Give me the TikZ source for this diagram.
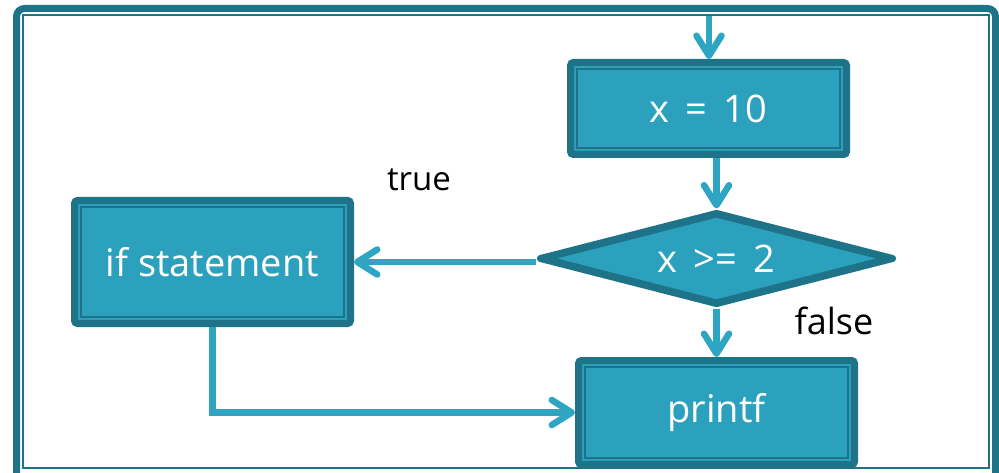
\documentclass[tikz,border=0pt]{standalone}
\usepackage{fontspec}
\setmainfont{Open Sans}
\usetikzlibrary{arrows.meta,shapes.geometric,calc}
\definecolor{dk}{HTML}{1F7389}
\definecolor{fl}{HTML}{2CA1BE}
\definecolor{ar}{HTML}{2EA6C3}
\begin{document}
\begin{tikzpicture}[x=1pt,y=-1pt,
  procbox/.style={draw=dk, fill=fl, line width=7pt, rounded corners=3pt,
    minimum width=276pt, text=white, font=\fontsize{38pt}{40pt}\selectfont, inner sep=0pt},
  decbox/.style={diamond, draw=dk, fill=fl, line width=7pt, line join=round, minimum width=355pt,
    minimum height=93pt, aspect=3.6, inner sep=0pt},
  innerline/.style={draw=dk, line width=1.6pt},
  lbl/.style={text=black, inner sep=0pt},
  flow/.style={draw=ar, line width=6.5pt, -{Straight Barb[length=20pt, width=25pt, round]}},
  framebig/.style={draw=dk, line width=7pt, rounded corners=8pt},
  framethin/.style={draw=dk, line width=2pt}
]
\useasboundingbox (0,0) rectangle (999,473);
% frame
\draw[framebig] (16.5,8.5) rectangle (995.5,495);
\draw[framethin] (23,15) rectangle (989,468);
% boxes
\node[procbox, minimum height=92pt] (x10) at (708.5,108.5) {x \,=\, 10};
\draw[innerline] ($(x10.north west)+(10,10)$) rectangle ($(x10.south east)+(-10,-10)$);
\node[procbox, minimum height=123pt] (ifb) at (212.5,262) {if statement};
\draw[innerline] ($(ifb.north west)+(10,10)$) rectangle ($(ifb.south east)+(-10,-10)$);
\node[procbox, minimum height=104pt] (pf) at (716.5,412.5) {printf};
\draw[innerline] ($(pf.north west)+(10,10)$) rectangle ($(pf.south east)+(-10,-10)$);
\node[decbox] (d) at (716.5,258.5) {};
\node[diamond, innerline, line join=round, minimum width=326pt, minimum height=84pt, aspect=3.9, inner sep=0pt,
  text=white, font=\fontsize{38pt}{40pt}\selectfont] (dIn) at (716.5,258.5) {x \,>=\, 2};
% labels
\node[lbl, font=\fontsize{33pt}{35pt}\selectfont] (tl) at (419,180) {true};
\node[lbl, font=\fontsize{36pt}{38pt}\selectfont] (fl) at (834,321) {false};
% connectors
\coordinate (topin) at (709,16);
\draw[flow] (topin) -- (topin |- x10.north);
\draw[flow] (d.north |- x10.south) -- (d.north);
\draw[flow] (d.west |- ifb.east) -- (ifb.east);
\draw[flow] (d.south) -- (pf.north);
\draw[flow] (ifb.south) |- (pf.west);
\end{tikzpicture}
\end{document}
